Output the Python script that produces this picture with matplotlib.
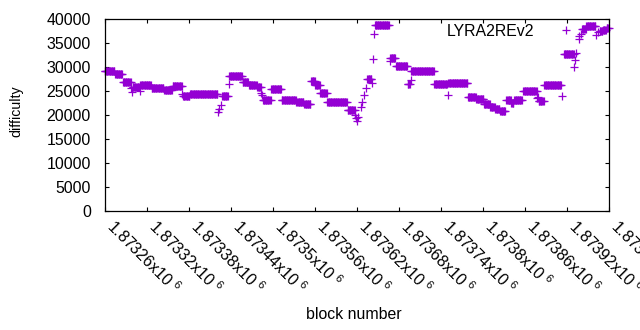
import numpy as np
import matplotlib
matplotlib.use("Agg")
import matplotlib.pyplot as plt
from matplotlib.transforms import ScaledTranslation

plt.rcParams["font.family"] = ["Liberation Sans", "DejaVu Sans"]
plt.rcParams["mathtext.default"] = "regular"

# block offsets from the first block
first_block = 1873260

# runs of equal difficulty: start offset, end offset, value
run_start = [0, 15, 26, 40, 51, 67, 85, 97, 112, 122, 168, 178, 197, 206, 218,
             226, 238, 253, 274, 285, 295, 301, 308, 318, 347, 375, 386, 408,
             416, 434, 438, 471, 491, 519, 531, 542, 551, 558, 565, 574, 581,
             585, 598, 620, 628, 656, 682, 688, 707, 712, 717]
run_end = [14, 25, 37, 49, 66, 84, 96, 110, 121, 161, 176, 196, 205, 217, 223,
           237, 252, 273, 284, 294, 300, 307, 317, 346, 357, 381, 406, 415,
           432, 436, 470, 489, 518, 530, 541, 550, 557, 564, 572, 580, 584,
           596, 617, 627, 652, 670, 687, 701, 711, 716, 720]
run_value = [29150, 28560, 26940, 25900, 26250, 25630, 25270, 26100, 24000,
             24400, 24080, 28250, 26880, 26270, 25960, 23290, 25440, 23120,
             22840, 22350, 27140, 26300, 24580, 22840, 21040, 27500, 38770,
             32000, 30170, 26500, 29330, 26500, 26670, 23870, 23500, 22290,
             21730, 21370, 20940, 23120, 22500, 23120, 25000, 22900, 26300,
             32700, 38040, 38670, 37500, 37800, 38100]

# isolated blocks
single_block = [38, 39, 50, 111, 162, 164, 166, 177, 224, 225, 358, 359, 361,
                362, 366, 368, 371, 374, 382, 384, 385, 407, 433, 437, 490,
                618, 619, 653, 671, 672, 673, 677, 678, 681, 702, 705]
single_value = [25750, 24800, 25130, 24500, 20600, 21230, 22120, 26460, 24700,
                24200, 20060, 19350, 18800, 19580, 21800, 22710, 24230, 25750,
                26670, 31670, 36880, 31300, 26460, 27350, 24230, 23540, 23900,
                24000, 30100, 31500, 32900, 35900, 36580, 36880, 36730, 37290]

x_ticks = np.arange(1873260, 1873981, 60)
x_labels = ["%gx10 $^{6}$" % (t / 1e6) for t in x_ticks]

blocks = []
diff = []
for s, e, v in zip(run_start, run_end, run_value):
    for b in range(s, e + 1):
        blocks.append(first_block + b)
        diff.append(v)
for b, v in zip(single_block, single_value):
    blocks.append(first_block + b)
    diff.append(v)
order = np.argsort(blocks)
blocks = np.array(blocks)[order]
diff = np.array(diff)[order]

fs = 11.4

fig = plt.figure(figsize=(6.4, 3.3), dpi=100)
ax = fig.add_axes([104.7 / 640, 1 - 211.3 / 330, 504.6 / 640, 192 / 330])

ax.plot(blocks, diff, linestyle="none", marker="+", markersize=5.5,
        markeredgewidth=0.9, color="#9400d3", label="LYRA2REv2", clip_on=False)

ax.set_xlim(1873260, 1873981)
ax.set_ylim(0, 40000)
ax.set_yticks(np.arange(0, 40001, 5000))
ax.set_xticks(x_ticks)
ax.set_xticklabels(x_labels, rotation=-45, ha="left", va="center",
                   rotation_mode="anchor")
ax.tick_params(direction="in", length=3, width=0.8, top=True, right=True,
               labelsize=fs, colors="black")
ax.tick_params(axis="y", pad=10)
ax.tick_params(axis="x", pad=12)
shift = ScaledTranslation(0.05, 0.05, fig.dpi_scale_trans)
for lab in ax.get_xticklabels():
    lab.set_transform(lab.get_transform() + shift)
for sp in ax.spines.values():
    sp.set_linewidth(0.9)

ax.set_ylabel("difficulty", fontsize=10.2)
ax.yaxis.set_label_coords(-0.161, 0.522)
ax.set_xlabel("block number", fontsize=fs)
ax.xaxis.set_label_coords(0.494, -0.50)

ax.legend(loc="center right", bbox_to_anchor=(0.945, 0.939), frameon=False,
          markerfirst=False, handlelength=2, handletextpad=1.0,
          borderpad=0, borderaxespad=0, fontsize=fs)

fig.savefig("out.png", dpi=100)
